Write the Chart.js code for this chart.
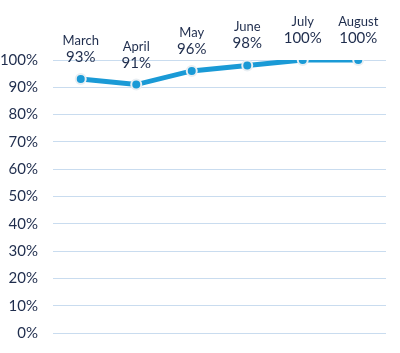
<!DOCTYPE html>
<html>
<head>
<meta charset="utf-8">
<script src="https://cdn.jsdelivr.net/npm/chart.js@4"></script>
<style>
  body { margin: 0; background: #fff; }
  canvas { display: block; }
</style>
</head>
<body>
<canvas id="lineChart" width="400" height="353"></canvas>
<script>
// 月份（x轴）
const months = ['March', 'April', 'May', 'June', 'July', 'August'];
// 百分比（y轴）
const rates = [93, 91, 96, 98, 100, 100];
// y轴刻度
const yTicks = [0, 10, 20, 30, 40, 50, 60, 70, 80, 90, 100];

const textColor = '#1f2d4d';

// 在点上方画 月份 + 百分比
const pointLabels = {
    id: 'pointLabels',
    afterDatasetsDraw(chart) {
        const c = chart.ctx;
        const meta = chart.getDatasetMeta(0);
        c.save();
        c.fillStyle = textColor;
        c.textAlign = 'center';
        c.textBaseline = 'alphabetic';
        meta.data.forEach((pt, i) => {
            c.font = '13px Lato, "Noto Sans", sans-serif';
            c.fillText(months[i], pt.x, pt.y - 34);
            c.font = '15px Lato, "Noto Sans", sans-serif';
            c.fillText(rates[i] + '%', pt.x, pt.y - 17);
        });
        c.restore();
    }
};

new Chart(document.getElementById('lineChart'), {
    type: 'line',
    data: {
        labels: months,
        datasets: [{
            data: rates,
            borderColor: '#1a9ad6',
            borderWidth: 5,
            backgroundColor: '#1a9ad6',
            pointRadius: 5,
            pointBorderColor: '#e8eef2',
            pointBorderWidth: 2,
            tension: 0
        }]
    },
    options: {
        responsive: false,
        animation: false,
        layout: { padding: { top: 60, right: 14, bottom: 20, left: 0 } },
        plugins: { legend: { display: false }, tooltip: { enabled: false } },
        scales: {
            x: { display: false, offset: true },
            y: {
                min: 0, max: 100,
                afterBuildTicks: (s) => { s.ticks = yTicks.map(v => ({ value: v })); },
                afterFit: (s) => { s.width = 53; s.paddingTop = 0; s.paddingBottom = 0; },
                border: { display: false },
                grid: { color: '#c9dcef', lineWidth: 1, drawTicks: false },
                ticks: {
                    color: textColor,
                    padding: 15,
                    font: { family: 'Lato, "Noto Sans", sans-serif', size: 15 },
                    callback: (v) => v + '%'
                }
            }
        }
    },
    plugins: [pointLabels]
});
</script>
</body>
</html>
